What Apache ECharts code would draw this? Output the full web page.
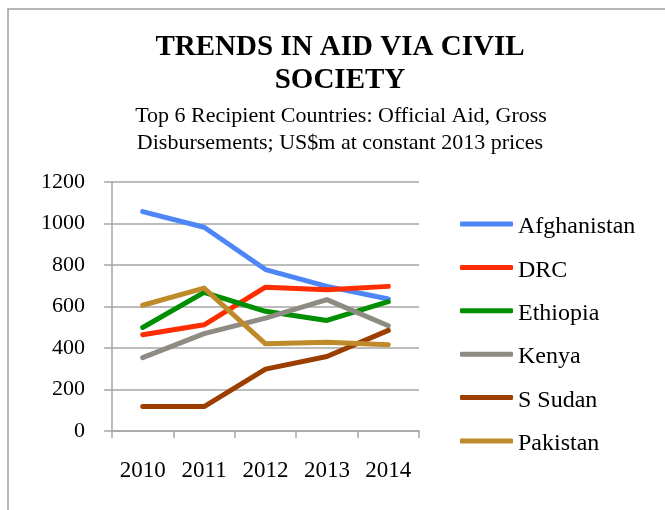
<!DOCTYPE html>
<html>
<head>
<meta charset="utf-8">
<script src="https://cdn.jsdelivr.net/npm/echarts@6/dist/echarts.min.js"></script>
<style>
html,body{margin:0;padding:0;background:#fff;}
#chart{width:665px;height:510px;}
</style>
</head>
<body>
<div id="chart"></div>
<script>
var years = ['2010', '2011', '2012', '2013', '2014'];
var yTicks = [0, 200, 400, 600, 800, 1000, 1200];
var afghanistan = [1057, 982, 778, 697, 636];
var drc = [464, 512, 693, 681, 697];
var ethiopia = [499, 668, 577, 533, 623];
var kenya = [354, 469, 544, 633, 507];
var sSudan = [118, 118, 298, 359, 485];
var pakistan = [606, 689, 420, 428, 416];

var seriesNames = ['Afghanistan', 'DRC', 'Ethiopia', 'Kenya', 'S Sudan', 'Pakistan'];
var seriesData = [afghanistan, drc, ethiopia, kenya, sSudan, pakistan];
var seriesColors = ['#4F86F7', '#FF2D00', '#008F00', '#8E8B83', '#9B3E00', '#BE8A2A'];

var serif = '"Liberation Serif", "DejaVu Serif", serif';
var grid = '#A6A6A6';

var chart = echarts.init(document.getElementById('chart'), null, {renderer: 'canvas'});
chart.setOption({
  animation: false,
  backgroundColor: '#fff',
  graphic: [
    {type: 'rect', shape: {x: 8, y: 9, width: 720, height: 600}, style: {fill: 'none', stroke: '#A0A0A0', lineWidth: 1.5}, silent: true, z: -1},
    {type: 'text', x: 340, y: 48, style: {text: 'TRENDS IN AID VIA CIVIL', font: 'bold 29px ' + serif, fill: '#000', textAlign: 'center', textVerticalAlign: 'middle'}},
    {type: 'text', x: 340, y: 81, style: {text: 'SOCIETY', font: 'bold 29px ' + serif, fill: '#000', textAlign: 'center', textVerticalAlign: 'middle'}},
    {type: 'text', x: 341, y: 116, style: {text: 'Top 6 Recipient Countries: Official Aid, Gross', font: '22px ' + serif, fill: '#000', textAlign: 'center', textVerticalAlign: 'middle'}},
    {type: 'text', x: 340, y: 143, style: {text: 'Disbursements; US$m at constant 2013 prices', font: '22px ' + serif, fill: '#000', textAlign: 'center', textVerticalAlign: 'middle'}}
  ],
  legend: {
    orient: 'vertical',
    left: 460,
    top: 209,
    padding: 0,
    itemWidth: 53,
    itemHeight: 5,
    itemGap: 13.4,
    icon: 'roundRect',
    formatter: function (name) { return '{a|' + name + '}'; },
    textStyle: {
      fontFamily: serif, fontSize: 24, color: '#000',
      rich: {a: {fontFamily: serif, fontSize: 24, color: '#000', lineHeight: 24, padding: [6, 0, 0, 0]}}
    },
    data: seriesNames
  },
  grid: {left: 112, right: 246, top: 182, bottom: 79},
  xAxis: {
    type: 'category',
    data: years,
    boundaryGap: true,
    axisLine: {lineStyle: {color: grid, width: 1.5}},
    axisTick: {show: true, length: 7, lineStyle: {color: grid, width: 1.5}},
    axisLabel: {fontFamily: serif, fontSize: 23, color: '#000', margin: 28}
  },
  yAxis: {
    type: 'value',
    min: 0,
    max: 1200,
    interval: 200,
    axisLine: {show: true, lineStyle: {color: grid, width: 1.5}},
    axisTick: {show: true, length: 8, lineStyle: {color: grid, width: 1.5}},
    splitLine: {lineStyle: {color: grid, width: 1.5}},
    axisLabel: {fontFamily: serif, fontSize: 22, color: '#000', margin: 27,
      formatter: function (v) { return yTicks.indexOf(v) >= 0 ? String(v) : ''; }}
  },
  series: seriesNames.map(function (name, i) {
    return {
      name: name,
      type: 'line',
      data: seriesData[i],
      symbol: 'none',
      showSymbol: false,
      color: seriesColors[i],
      lineStyle: {width: 5, color: seriesColors[i], cap: 'round', join: 'round'},
      itemStyle: {color: seriesColors[i]},
      z: 2 + i
    };
  })
});
</script>
</body>
</html>
